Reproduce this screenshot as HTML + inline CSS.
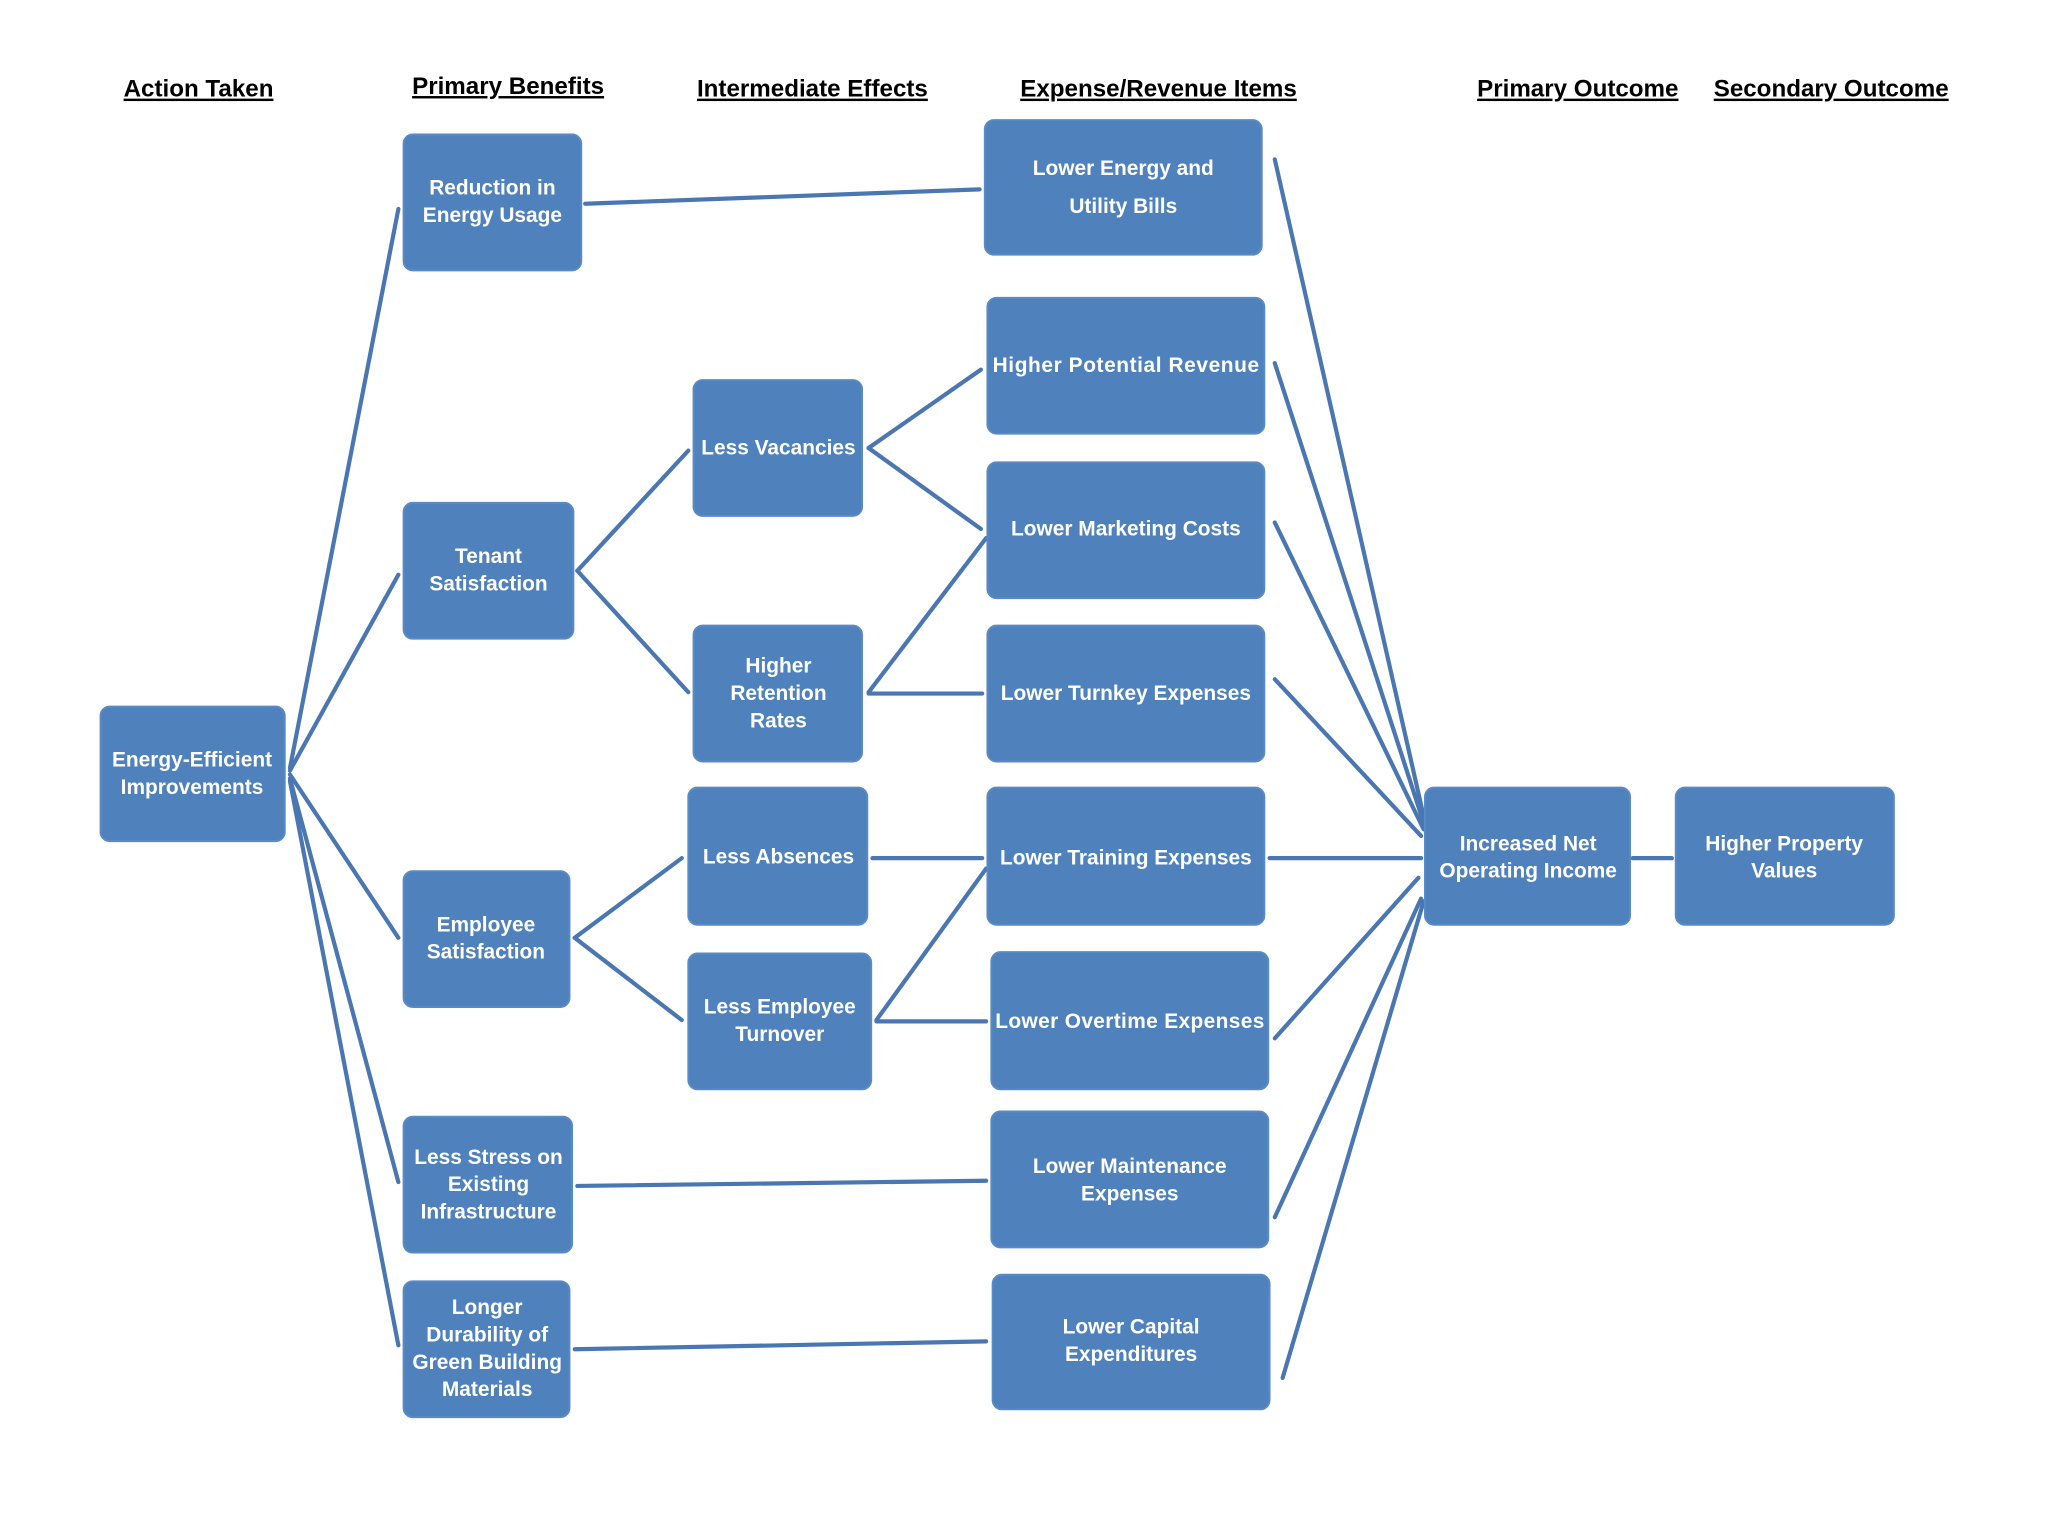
<!DOCTYPE html>
<html><head><meta charset="utf-8"><style>
html,body{margin:0;padding:0;background:#fff;}
svg{display:block}
.h{font-family:"Liberation Sans",sans-serif;font-weight:bold;font-size:18.5px;fill:#000;text-decoration:underline;}
.b{fill:#4f81bd;stroke:#5a8ac6;stroke-width:1.5}
.t{font-family:"Liberation Sans",sans-serif;font-weight:bold;font-size:16px;fill:#fff;text-anchor:middle;}
.l{stroke:#4a76b2;stroke-width:3.2;fill:none;stroke-linecap:round}
</style></head><body>
<svg width="2048" height="1536" viewBox="0 0 1568 1176" xmlns="http://www.w3.org/2000/svg">
<g class="h">
<text x="152" y="74" text-anchor="middle">Action Taken</text>
<text x="389" y="72" text-anchor="middle">Primary Benefits</text>
<text x="622" y="74" text-anchor="middle">Intermediate Effects</text>
<text x="887" y="74" text-anchor="middle">Expense/Revenue Items</text>
<text x="1208" y="74" text-anchor="middle">Primary Outcome</text>
<text x="1402" y="74" text-anchor="middle">Secondary Outcome</text>
</g>
<g class="l">
<line x1="222" y1="588" x2="305" y2="160"/>
<line x1="222" y1="590" x2="305" y2="440"/>
<line x1="222" y1="593" x2="305" y2="718"/>
<line x1="222" y1="596" x2="305" y2="905"/>
<line x1="222" y1="598" x2="305" y2="1030"/>
<line x1="448" y1="156" x2="750" y2="145"/>
<line x1="442" y1="437" x2="527" y2="345"/>
<line x1="442" y1="437" x2="527" y2="530"/>
<line x1="665" y1="343" x2="751" y2="283"/>
<line x1="665" y1="343" x2="751" y2="405"/>
<line x1="665" y1="530" x2="755" y2="412"/>
<line x1="665" y1="531" x2="752" y2="531"/>
<line x1="440" y1="718" x2="522" y2="657"/>
<line x1="440" y1="718" x2="522" y2="781"/>
<line x1="668" y1="657" x2="752" y2="657"/>
<line x1="671" y1="781" x2="755" y2="665"/>
<line x1="671" y1="782" x2="755" y2="782"/>
<line x1="442" y1="908" x2="755" y2="904"/>
<line x1="440" y1="1033" x2="755" y2="1027"/>
<line x1="976" y1="122" x2="1090" y2="625"/>
<line x1="976" y1="278" x2="1090" y2="630"/>
<line x1="976" y1="400" x2="1090" y2="635"/>
<line x1="976" y1="520" x2="1088" y2="640"/>
<line x1="972" y1="657" x2="1088" y2="657"/>
<line x1="976" y1="795" x2="1086" y2="672"/>
<line x1="976" y1="932" x2="1088" y2="688"/>
<line x1="982" y1="1055" x2="1090" y2="690"/>
<line x1="1250" y1="657" x2="1280" y2="657"/>
</g>
<g>
<rect class="b" x="77" y="541" width="141" height="103" rx="7"/>
<rect class="b" x="309" y="103" width="136" height="104" rx="7"/>
<rect class="b" x="309" y="385" width="130" height="104" rx="7"/>
<rect class="b" x="309" y="667" width="127" height="104" rx="7"/>
<rect class="b" x="309" y="855" width="129" height="104" rx="7"/>
<rect class="b" x="309" y="981" width="127" height="104" rx="7"/>
<rect class="b" x="531" y="291" width="129" height="104" rx="7"/>
<rect class="b" x="531" y="479" width="129" height="104" rx="7"/>
<rect class="b" x="527" y="603" width="137" height="105" rx="7"/>
<rect class="b" x="527" y="730" width="140" height="104" rx="7"/>
<rect class="b" x="754" y="92" width="212" height="103" rx="7"/>
<rect class="b" x="756" y="228" width="212" height="104" rx="7"/>
<rect class="b" x="756" y="354" width="212" height="104" rx="7"/>
<rect class="b" x="756" y="479" width="212" height="104" rx="7"/>
<rect class="b" x="756" y="603" width="212" height="105" rx="7"/>
<rect class="b" x="759" y="729" width="212" height="105" rx="7"/>
<rect class="b" x="759" y="851" width="212" height="104" rx="7"/>
<rect class="b" x="760" y="976" width="212" height="103" rx="7"/>
<rect class="b" x="1091" y="603" width="157" height="105" rx="7"/>
<rect class="b" x="1283" y="603" width="167" height="105" rx="7"/>
</g>
<g class="t">
<text x="147" y="587">Energy-Efficient</text><text x="147" y="608">Improvements</text>
<text x="377" y="149">Reduction in</text><text x="377" y="170">Energy Usage</text>
<text x="374" y="431">Tenant</text><text x="374" y="452">Satisfaction</text>
<text x="372" y="713">Employee</text><text x="372" y="734">Satisfaction</text>
<text x="374" y="891">Less Stress on</text><text x="374" y="912">Existing</text><text x="374" y="933">Infrastructure</text>
<text x="373" y="1006">Longer</text><text x="373" y="1027">Durability of</text><text x="373" y="1048">Green Building</text><text x="373" y="1069">Materials</text>
<text x="596" y="348">Less Vacancies</text>
<text x="596" y="515">Higher</text><text x="596" y="536">Retention</text><text x="596" y="557">Rates</text>
<text x="596" y="661">Less Absences</text>
<text x="597" y="776">Less Employee</text><text x="597" y="797">Turnover</text>
<text x="860" y="134">Lower Energy and</text><text x="860" y="163">Utility Bills</text>
<text x="862" y="285" textLength="204">Higher Potential  Revenue</text>
<text x="862" y="410">Lower Marketing Costs</text>
<text x="862" y="536">Lower Turnkey Expenses</text>
<text x="862" y="662">Lower Training Expenses</text>
<text x="865" y="787" textLength="206">Lower Overtime Expenses</text>
<text x="865" y="898">Lower Maintenance</text><text x="865" y="919">Expenses</text>
<text x="866" y="1021">Lower Capital</text><text x="866" y="1042">Expenditures</text>
<text x="1170" y="651">Increased Net</text><text x="1170" y="672">Operating Income</text>
<text x="1366" y="651">Higher Property</text><text x="1366" y="672">Values</text>
</g>
</svg>
</body></html>
